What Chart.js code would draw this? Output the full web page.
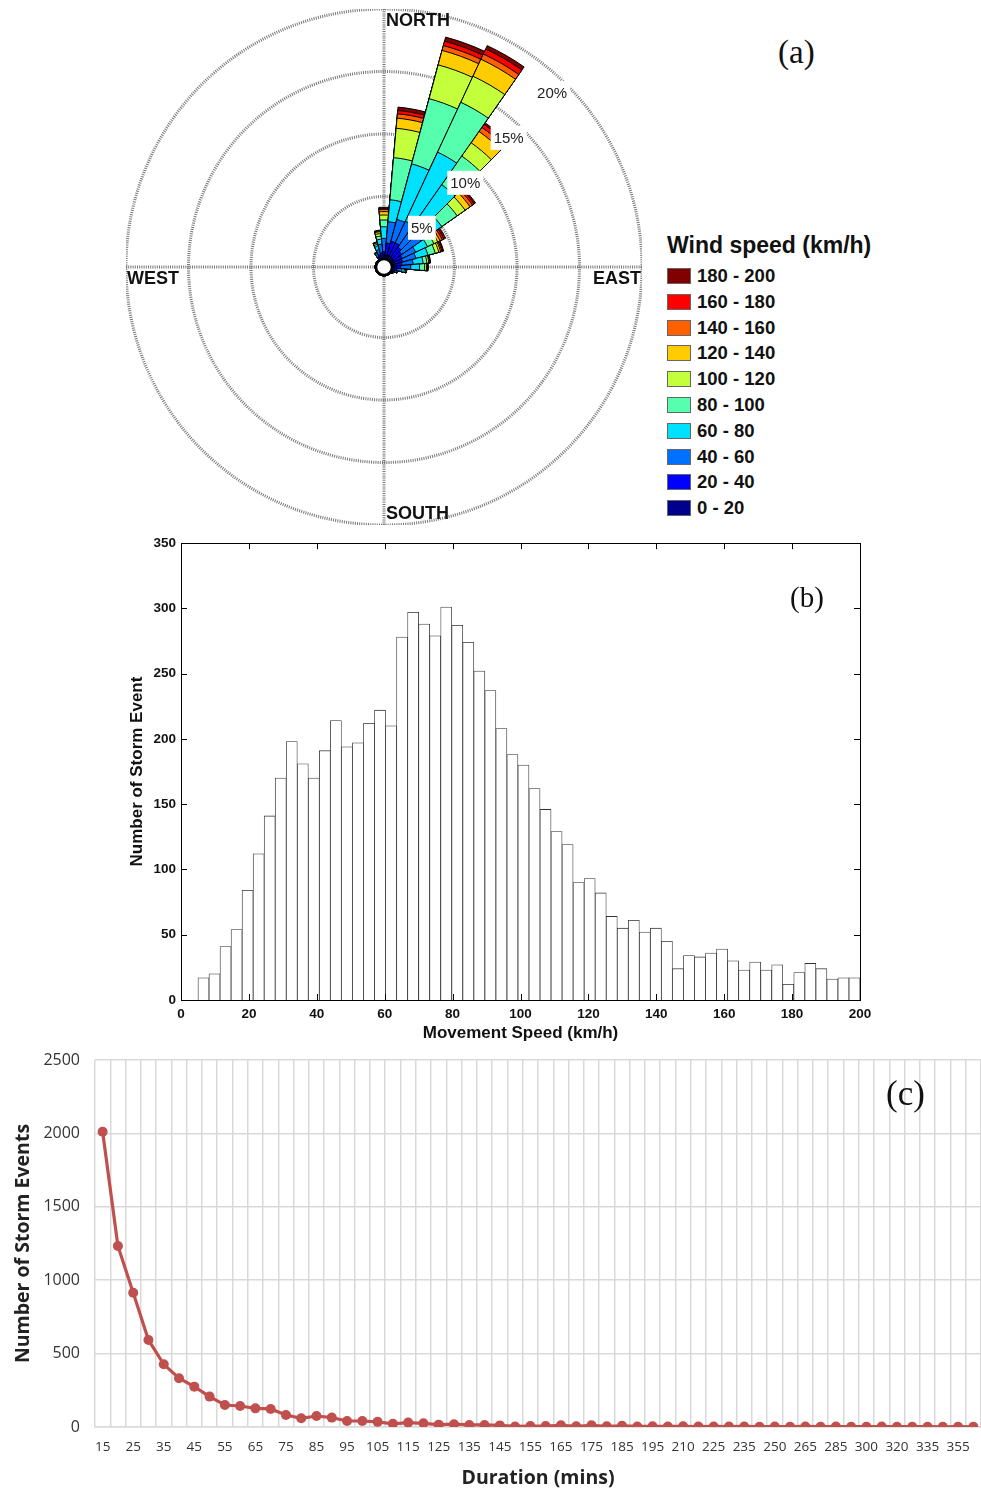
<!DOCTYPE html>
<html>
<head>
<meta charset="utf-8">
<script src="https://cdn.jsdelivr.net/npm/chart.js@4.4.1/dist/chart.umd.min.js"></script>
<style>
body { margin:0; background:#fff; width:981px; height:1493px; overflow:hidden; position:relative; font-family:"Liberation Sans", Arial, sans-serif; }
canvas { position:absolute; }
.tag { position:absolute; font-family:"Liberation Serif", "Times New Roman", serif; color:#111; line-height:1; }
#legend { position:absolute; left:667px; top:232px; color:#111; }
#legend .ttl { font-weight:bold; font-size:23px; line-height:26px; margin-bottom:5px; white-space:nowrap; }
#legend .row { height:25.8px; line-height:25.8px; font-weight:bold; font-size:18.5px; white-space:nowrap; }
#legend .box { display:inline-block; width:24px; height:16px; box-sizing:border-box; border:1px solid #666; vertical-align:-2px; margin-right:6px; }
</style>
</head>
<body>
<canvas id="rose" width="516" height="516" style="left:126px;top:9px"></canvas>
<div class="tag" style="left:778px;top:36px;font-size:33px">(a)</div>
<div id="legend"></div>
<canvas id="hist" width="780" height="515" style="left:100px;top:530px"></canvas>
<div class="tag" style="left:790px;top:583px;font-size:29px">(b)</div>
<canvas id="dur" width="986" height="448" style="left:0px;top:1045px"></canvas>
<div class="tag" style="left:886px;top:1076px;font-size:35px">(c)</div>
<script>
// (a) wind rose: frequency (%) per 10 degree sector, one array per speed class
var directions = ['0','10','20','30','40','50','60','70','80','90','100','110','120','130','140','150','160','170',
  '180','190','200','210','220','230','240','250','260','270','280','290','300','310','320','330','340','350']
var speedClasses = ['0 - 20','20 - 40','40 - 60','60 - 80','80 - 100','100 - 120','120 - 140','140 - 160','160 - 180','180 - 200']
var roseColors = ['#00008c','#0000ff','#0070ff','#00e0ff','#55ffae','#c4ff3c','#ffcc00','#ff6000','#ff0000','#800000']
var roseRings = [5, 10, 15, 20]

var freq0_20 = [0.16,0.30,0.35,0.35,0.30,0.25,0.24,0.20,0.20,0.15,0.10,0.08,0.06,0.05,
  0.04,0.04,0.04,0.04,0.04,0.04,0.04,0.04,0.04,0.04,0.04,0.04,0.04,0.04,0.04,0.04,0.04,0.04,0.04,
  0.08,0.10,0.12]
var freq20_40 = [0.42,0.98,1.15,1.15,1.00,0.85,0.72,0.70,0.60,0.55,0.30,0.20,0.10,0.06,
  0.03,0.03,0.03,0.03,0.03,0.03,0.03,0.03,0.03,0.03,0.03,0.03,0.03,0.03,0.03,0.03,0.03,0.03,0.03,
  0.20,0.30,0.38]
var freq40_60 = [1.07,1.72,1.80,1.90,1.90,1.88,1.20,1.10,0.90,0.80,0.40,0.15,0.05,0.02,
  0,0,0,0,0,0,0,0,0,0,0,0,0,0,0,0,0,0,0,
  0.20,0.40,0.70]
var freq60_80 = [0.93,1.76,4.60,6.10,4.20,2.02,1.04,1.00,0.80,0.70,0.20,0.05,0.02,0,
  0,0,0,0,0,0,0,0,0,0,0,0,0,0,0,0,0,0,0,
  0.10,0.30,0.40]
var freq80_100 = [0.54,3.38,5.40,4.40,2.80,1.50,0.56,0.60,0.30,0.40,0.10,0.02,0.01,0,
  0,0,0,0,0,0,0,0,0,0,0,0,0,0,0,0,0,0,0,
  0.05,0.15,0.25]
var freq100_120 = [0.40,2.36,2.80,2.30,1.30,0.78,0.34,0.30,0.15,0.15,0.05,0.01,0,0,
  0,0,0,0,0,0,0,0,0,0,0,0,0,0,0,0,0,0,0,
  0.03,0.10,0.20]
var freq120_140 = [0.27,0.81,1.20,1.50,1.10,0.48,0.20,0.15,0.05,0.05,0.02,0,0,0,
  0,0,0,0,0,0,0,0,0,0,0,0,0,0,0,0,0,0,0,
  0.02,0.05,0.15]
var freq140_160 = [0.19,0.35,0.40,0.46,0.40,0.24,0.20,0.10,0.05,0.05,0.01,0,0,0,
  0,0,0,0,0,0,0,0,0,0,0,0,0,0,0,0,0,0,0,
  0.01,0.02,0.07]
var freq160_180 = [0.08,0.27,0.36,0.44,0.30,0.16,0.14,0.10,0.03,0.03,0.01,0,0,0,
  0,0,0,0,0,0,0,0,0,0,0,0,0,0,0,0,0,0,0,
  0.01,0.02,0.03]
var freq180_200 = [0.08,0.27,0.34,0.30,0.15,0.14,0.16,0.05,0.02,0.02,0.01,0,0,0,
  0,0,0,0,0,0,0,0,0,0,0,0,0,0,0,0,0,0,0,
  0,0.01,0.03]

// (b) histogram of movement speed
var speedBinStart = 5
var speedBinWidth = 3.25
var stormCounts = [17,20,41,54,84,112,141,170,198,181,
  170,191,214,194,197,212,222,210,278,297,
  288,279,301,287,274,252,237,208,188,180,
  162,146,129,119,90,93,82,64,55,61,
  52,55,45,24,34,33,36,39,30,23,
  29,23,27,12,21,28,24,16,17,17]

// (c) storm events by duration
var durationLabels = ['15','20','25','30','35','40','45','50','55','60','65','70','75','80','85','90','95','100',
  '105','110','115','120','125','130','135','140','145','150','155','160','165','170','175','180','185','190','195',
  '205','210','220','225','230','235','245','250','255','265','275','285','290','300','310','320','325','335','345','355','360']
var stormEventCounts = [2011,1233,915,593,427,332,275,207,150,143,127,123,82,59,75,64,41,41,
  35,22,30,25,16,19,14,14,11,4,6,6,12,5,12,5,8,4,5,
  4,5,3,4,3,4,2,3,2,4,2,3,2,2,3,2,2,2,1,2,1]

Chart.defaults.font.family = '"Liberation Sans", Arial, sans-serif'
Chart.defaults.color = '#111'

// legend of the rose (top row = fastest class)
var lg = '<div class="ttl">Wind speed (km/h)</div>'
for (var k = speedClasses.length - 1; k >= 0; k--) {
  lg += '<div class="row"><span class="box" style="background:' + roseColors[k] + '"></span>' + speedClasses[k] + '</div>'
}
document.getElementById('legend').innerHTML = lg

// stacked petals = cumulative values drawn largest first
var classFreqs = [freq0_20, freq20_40, freq40_60, freq60_80, freq80_100, freq100_120, freq120_140, freq140_160, freq160_180, freq180_200]
var running = directions.map(function(){ return 0 })
var roseSets = classFreqs.map(function(arr, k){
  running = running.map(function(v, i){ return v + arr[i] })
  return {
    label: speedClasses[k],
    data: running.slice(),
    backgroundColor: roseColors[k],
    borderColor: '#000',
    borderWidth: 1
  }
})

var roseDeco = {
  id: 'roseDeco',
  beforeDatasetsDraw: function(chart){
    var s = chart.scales.r, ctx = chart.ctx, R = s.drawingArea
    ctx.save()
    ctx.strokeStyle = '#777'
    ctx.lineWidth = 3
    ctx.setLineDash([1, 1.2])
    ctx.beginPath()
    ctx.moveTo(s.xCenter, s.yCenter - R); ctx.lineTo(s.xCenter, s.yCenter + R)
    ctx.moveTo(s.xCenter - R, s.yCenter); ctx.lineTo(s.xCenter + R, s.yCenter)
    ctx.stroke()
    ctx.restore()
  },
  afterDraw: function(chart){
    var s = chart.scales.r, ctx = chart.ctx, R = s.drawingArea
    ctx.save()
    // calm circle
    ctx.beginPath()
    ctx.arc(s.xCenter, s.yCenter, s.getDistanceFromCenterForValue(0), 0, Math.PI * 2)
    ctx.fillStyle = '#fff'; ctx.fill()
    ctx.lineWidth = 2.5; ctx.strokeStyle = '#000'; ctx.stroke()
    // ring labels
    ctx.font = '15px "Liberation Sans", Arial'
    ctx.textAlign = 'center'; ctx.textBaseline = 'middle'
    var ang = 44 * Math.PI / 180
    roseRings.forEach(function(v){
      var r = s.getDistanceFromCenterForValue(v) - 16
      var x = s.xCenter + r * Math.sin(ang), y = s.yCenter - r * Math.cos(ang)
      var t = v + '%', w = ctx.measureText(t).width + 6
      ctx.fillStyle = '#fff'; ctx.fillRect(x - w / 2, y - 12, w, 24)
      ctx.fillStyle = '#222'; ctx.fillText(t, x, y + 1)
    })
    // compass labels
    ctx.font = 'bold 18px "Liberation Sans", Arial'
    ctx.fillStyle = '#111'
    ctx.textAlign = 'left'
    ctx.fillText('NORTH', s.xCenter + 2, s.yCenter - R + 12)
    ctx.fillText('SOUTH', s.xCenter + 2, s.yCenter + R - 11)
    ctx.fillText('WEST', s.xCenter - R + 1, s.yCenter + 12)
    ctx.textAlign = 'right'
    ctx.fillText('EAST', s.xCenter + R - 1, s.yCenter + 12)
    ctx.restore()
  }
}

new Chart(document.getElementById('rose'), {
  type: 'polarArea',
  data: { labels: directions, datasets: roseSets },
  options: {
    responsive: false,
    animation: false,
    events: [],
    layout: { padding: 0 },
    plugins: { legend: { display: false }, tooltip: { enabled: false } },
    scales: {
      r: {
        min: -0.64,
        max: 20,
        startAngle: -5,
        z: 1,
        ticks: { display: false },
        afterBuildTicks: function(scale){ scale.ticks = roseRings.map(function(v){ return { value: v } }) },
        grid: { circular: true, color: '#777', lineWidth: 3 },
        border: { dash: [1, 1.2] },
        angleLines: { display: false },
        pointLabels: { display: false }
      }
    }
  },
  plugins: [roseDeco]
})

// (b) histogram with a MATLAB style box and inner ticks
var matlabBox = {
  id: 'matlabBox',
  afterDraw: function(chart){
    var a = chart.chartArea, ctx = chart.ctx, xs = chart.scales.x, ys = chart.scales.y
    ctx.save()
    ctx.strokeStyle = '#000'; ctx.lineWidth = 1
    ctx.strokeRect(Math.round(a.left) + 0.5, Math.round(a.top) + 0.5, Math.round(a.right - a.left), Math.round(a.bottom - a.top))
    ctx.beginPath()
    xs.ticks.forEach(function(t){
      var p = Math.round(xs.getPixelForValue(t.value)) + 0.5
      ctx.moveTo(p, a.bottom); ctx.lineTo(p, a.bottom - 6)
      ctx.moveTo(p, a.top); ctx.lineTo(p, a.top + 6)
    })
    ys.ticks.forEach(function(t){
      var p = Math.round(ys.getPixelForValue(t.value)) + 0.5
      ctx.moveTo(a.left, p); ctx.lineTo(a.left + 6, p)
      ctx.moveTo(a.right, p); ctx.lineTo(a.right - 6, p)
    })
    ctx.stroke()
    ctx.restore()
  }
}

new Chart(document.getElementById('hist'), {
  type: 'bar',
  data: {
    datasets: [{
      data: stormCounts.map(function(c, i){ return { x: speedBinStart + speedBinWidth * (i + 0.5), y: c } }),
      backgroundColor: '#fff',
      borderColor: '#333',
      borderWidth: 0.8,
      barPercentage: 1,
      categoryPercentage: 1
    }]
  },
  options: {
    responsive: false,
    animation: false,
    events: [],
    layout: { padding: { top: 13, right: 20, left: 0, bottom: 0 } },
    plugins: { legend: { display: false }, tooltip: { enabled: false } },
    scales: {
      x: {
        type: 'linear', min: 0, max: 200, offset: false,
        ticks: { stepSize: 20, padding: 6, font: { size: 13.5, weight: 'bold' }, color: '#111', maxRotation: 0 },
        grid: { display: false, drawTicks: false, offset: false },
        border: { display: false },
        title: { display: true, text: 'Movement Speed (km/h)', font: { size: 17, weight: 'bold' }, color: '#111', padding: { top: 0, bottom: 1 } },
        afterFit: function(scale){ scale.height = 45 }
      },
      y: {
        min: 0, max: 350,
        ticks: { stepSize: 50, padding: 5, font: { size: 13.5, weight: 'bold' }, color: '#111' },
        grid: { display: false, drawTicks: false },
        border: { display: false },
        title: { display: true, text: 'Number of Storm Event', font: { size: 17, weight: 'bold' }, color: '#111', padding: { top: 27, bottom: 0 } },
        afterFit: function(scale){ scale.width = 81 }
      }
    }
  },
  plugins: [matlabBox]
})

// (c) duration line chart
new Chart(document.getElementById('dur'), {
  type: 'line',
  data: {
    labels: durationLabels,
    datasets: [{
      data: stormEventCounts,
      borderColor: '#c0504d',
      backgroundColor: '#c0504d',
      borderWidth: 3.2,
      pointRadius: 5,
      pointBackgroundColor: '#c0504d',
      pointBorderWidth: 0,
      tension: 0
    }]
  },
  options: {
    responsive: false,
    animation: false,
    events: [],
    layout: { padding: { top: 15, right: 0, left: 0, bottom: 0 } },
    plugins: { legend: { display: false }, tooltip: { enabled: false } },
    scales: {
      x: {
        type: 'category', offset: true,
        grid: { offset: true, color: '#d9d9d9', lineWidth: 1.5, drawTicks: false },
        border: { color: '#d9d9d9', width: 1.5 },
        ticks: {
          autoSkip: false, maxRotation: 0, padding: 12,
          font: { family: '"Open Sans", sans-serif', size: 13.5 }, color: '#333',
          callback: function(v, i){ return i % 2 === 0 ? durationLabels[i] : '' }
        },
        title: { display: true, text: 'Duration (mins)', font: { family: '"Open Sans", sans-serif', size: 19.5, weight: 'bold' }, color: '#222', padding: { top: 0, bottom: 3 } },
        afterFit: function(scale){ scale.height = 66 }
      },
      y: {
        min: 0, max: 2500,
        grid: { color: '#d9d9d9', lineWidth: 1.5, drawTicks: false },
        border: { display: false },
        ticks: { stepSize: 500, padding: 15, font: { family: '"Open Sans", sans-serif', size: 16 }, color: '#333',
          callback: function(v){ return String(v) } },
        title: { display: true, text: 'Number of Storm Events', font: { family: '"Open Sans", sans-serif', size: 19.5, weight: 'bold' }, color: '#222', padding: { top: 12, bottom: 0 } },
        afterFit: function(scale){ scale.width = 95; scale.paddingTop = 0; scale.paddingBottom = 0 }
      }
    }
  }
})
</script>
</body>
</html>
